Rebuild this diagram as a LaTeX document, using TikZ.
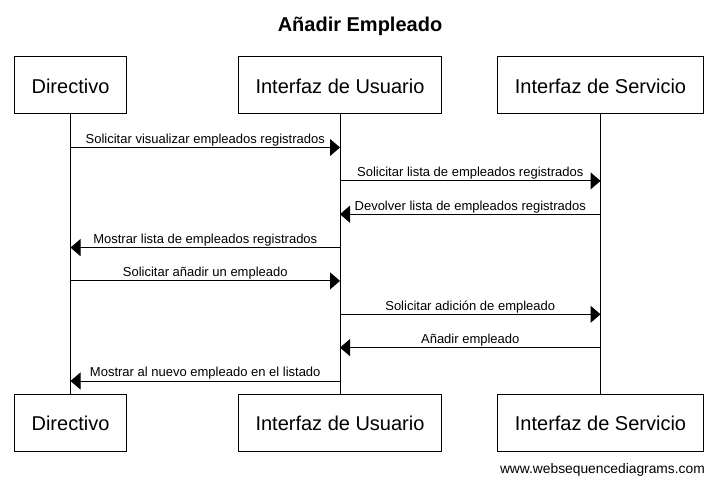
\documentclass[tikz,border=0pt]{standalone}
\usepackage{fontspec}
\setmainfont{Liberation Sans}
\usepackage{tikz}
\usetikzlibrary{arrows.meta}

\tikzset{
    actor/.style={draw, line width=1pt, minimum height=57pt, inner xsep=17pt,
        text height=16pt, text depth=0pt, font=\fontsize{20}{24}\selectfont},
    msg/.style={line width=1pt, -{Triangle[length=10pt,width=17pt]}},
    lbl/.style={font=\fontsize{13}{15}\selectfont, inner sep=1pt},
}

\begin{document}
\begin{tikzpicture}[x=1pt,y=-1pt]
        \useasboundingbox (0,0) rectangle (719,486);

        % 标题
        \node[anchor=base, font=\bfseries\fontsize{20}{24}\selectfont] (title) at (360,32) {Añadir Empleado};

        % 参与者
        \node[actor] (dir) at (70.5,85.5) {Directivo};
        \node[actor] (ui) at (340,85.5) {Interfaz de Usuario};
        \node[actor] (srv) at (600.5,85.5) {Interfaz de Servicio};
        \node[actor] (dirB) at (70.5,422.5) {Directivo};
        \node[actor] (uiB) at (340,422.5) {Interfaz de Usuario};
        \node[actor] (srvB) at (600.5,422.5) {Interfaz de Servicio};

        % 生命线
        \foreach \a/\b in {dir/dirB, ui/uiB, srv/srvB}
            \draw[line width=1pt] (\a) -- (\b);

        % 消息
        \foreach \y/\a/\b/\txt in {
            147.5/dir/ui/{Solicitar visualizar empleados registrados},
            180.9/ui/srv/{Solicitar lista de empleados registrados},
            214.2/srv/ui/{Devolver lista de empleados registrados},
            247.6/ui/dir/{Mostrar lista de empleados registrados},
            280.9/dir/ui/{Solicitar añadir un empleado},
            314.3/ui/srv/{Solicitar adición de empleado},
            347.6/srv/ui/{Añadir empleado},
            381/ui/dir/{Mostrar al nuevo empleado en el listado}}
            \draw[msg] (\a |- 0,\y) -- (\b |- 0,\y) node[midway, above, lbl] {\txt};

        % 页脚
        \node[anchor=base east, font=\fontsize{13.8}{16}\selectfont, inner sep=0pt] (web) at (705,473.5) {www.websequencediagrams.com};
    \end{tikzpicture}
\end{document}
